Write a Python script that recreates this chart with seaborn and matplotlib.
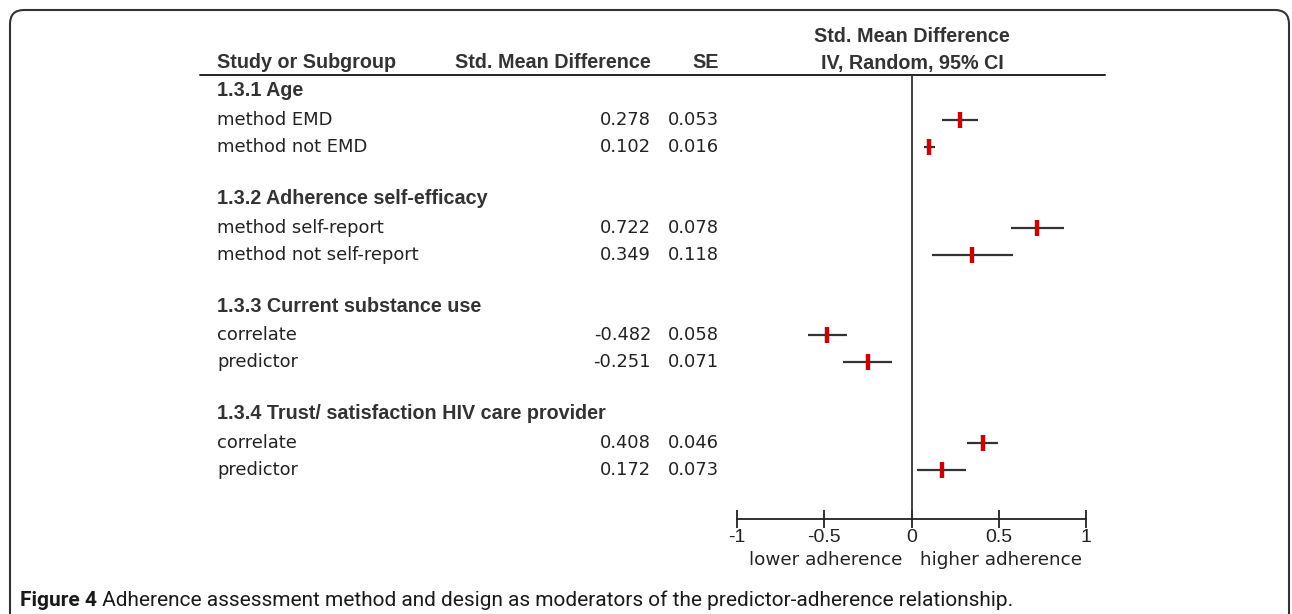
import matplotlib
matplotlib.use("Agg")
import matplotlib.pyplot as plt
import seaborn as sns
import pandas as pd
from matplotlib.lines import Line2D
from matplotlib.patches import FancyBboxPatch
from matplotlib.transforms import IdentityTransform, blended_transform_factory

# data
groups = ['1.3.1 Age', '1.3.2 Adherence self-efficacy', '1.3.3 Current substance use',
          '1.3.4 Trust/ satisfaction HIV care provider']
studies = ['method EMD', 'method not EMD', 'method self-report', 'method not self-report',
           'correlate', 'predictor', 'correlate', 'predictor']
study_group = [0, 0, 1, 1, 2, 2, 3, 3]
smd = [0.278, 0.102, 0.722, 0.349, -0.482, -0.251, 0.408, 0.172]
se = [0.053, 0.016, 0.078, 0.118, 0.058, 0.071, 0.046, 0.073]
ticks = [-1, -0.5, 0, 0.5, 1]
tick_labels = ['-1', '-0.5', '0', '0.5', '1']

df = pd.DataFrame({'study': studies, 'group': study_group, 'smd': smd, 'se': se})
df['row'] = [4 * g + 1 + i % 2 for i, g in enumerate(df['group'])]
df['lo'] = df['smd'] - 1.96 * df['se']
df['hi'] = df['smd'] + 1.96 * df['se']

sns.set_theme(style='white')
plt.rcParams['font.family'] = ['Liberation Sans', 'DejaVu Sans']

W, H = 1292, 614
fig = plt.figure(figsize=(W / 100, H / 100), dpi=100)

# forest panel: -1..1 spans px 737..1086, rows between header line and axis
top_px, bot_px = 75, 519
ax = fig.add_axes([737 / W, 1 - bot_px / H, (1086 - 737) / W, (bot_px - top_px) / H])
ax.set_xlim(-1, 1)
ax.set_ylim((bot_px - 93.1) / 26.9, (top_px - 93.1) / 26.9)

ax.axvline(0, color='#333333', lw=1.3, zorder=1)
ax.hlines(df['row'], df['lo'], df['hi'], color='#333333', lw=1.6, zorder=2)
sns.scatterplot(data=df, x='smd', y='row', marker='|', s=130, linewidth=3.2,
                color='#c80000', ax=ax, zorder=3, legend=False)

for s in ['top', 'left', 'right']:
    ax.spines[s].set_visible(False)
ax.spines['bottom'].set_color('#222222')
ax.spines['bottom'].set_linewidth(1.3)
ax.set_xticks(ticks)
ax.set_xticklabels(tick_labels)
ax.set_yticks([])
ax.tick_params(axis='x', direction='inout', length=13, width=1.3, color='#222222',
               labelsize=14, labelcolor='#222222', pad=1, bottom=True)
ax.set_xlabel('')
ax.set_ylabel('')
ax.set_facecolor('none')

# table columns, x in figure pixels, y in row units
tr = blended_transform_factory(fig.transFigure, ax.transData)
txt = '#222222'
head = '#333333'
body_font = ['DejaVu Sans']
fs_body = 12.9
fs_head = 14.2
for g, name in enumerate(groups):
    ax.text(217 / W, 4 * g - 0.08, name, transform=tr, ha='left', va='center',
            fontsize=fs_head, fontweight='bold', color=head)
for _, r in df.iterrows():
    ax.text(217 / W, r['row'], r['study'], transform=tr, ha='left', va='center',
            fontsize=fs_body, color=txt, family=body_font)
    ax.text(651 / W, r['row'], f"{r['smd']:.3f}", transform=tr, ha='right', va='center',
            fontsize=fs_body, color=txt, family=body_font)
    ax.text(719 / W, r['row'], f"{r['se']:.3f}", transform=tr, ha='right', va='center',
            fontsize=fs_body, color=txt, family=body_font)

# headers
hy = 1 - 63 / H
fig.text(217 / W, hy, 'Study or Subgroup', ha='left', va='center', fontsize=fs_head,
         fontweight='bold', color=head)
fig.text(651 / W, hy, 'Std. Mean Difference', ha='right', va='center', fontsize=fs_head,
         fontweight='bold', color=head)
fig.text(719 / W, hy, 'SE', ha='right', va='center', fontsize=fs_head,
         fontweight='bold', color=head)
fig.text(912 / W, 1 - 37 / H, 'Std. Mean Difference', ha='center', va='center',
         fontsize=fs_head, fontweight='bold', color=head)
fig.text(912 / W, hy, 'IV, Random, 95% CI', ha='center', va='center',
         fontsize=fs_head, fontweight='bold', color=head)
fig.add_artist(Line2D([200 / W, 1105 / W], [1 - 75 / H, 1 - 75 / H],
                      transform=fig.transFigure, color='#222222', lw=1.4))

# favours labels
fig.text(826 / W, 1 - 560 / H, 'lower adherence', ha='center', va='center',
         fontsize=13.2, color=txt, family=body_font)
fig.text(1001 / W, 1 - 560 / H, 'higher adherence', ha='center', va='center',
         fontsize=13.2, color=txt, family=body_font)

# caption
cap = fig.text(20 / W, 1 - 600 / H, 'Figure 4', ha='left', va='center',
               fontsize=15, fontweight='bold', color='#1a1a1a', family=['Roboto'])
ax.annotate(' Adherence assessment method and design as moderators of the '
            'predictor-adherence relationship.', xy=(1, 0.5), xycoords=cap,
            ha='left', va='center', fontsize=15, color='#1a1a1a', family=['Roboto'],
            annotation_clip=False)

# rounded frame
frame = FancyBboxPatch((10, -30), 1279, H - 10 + 30, boxstyle='round,pad=0,rounding_size=14',
                       transform=IdentityTransform(), fill=False, ec='#333333', lw=1.5)
fig.patches.append(frame)

fig.savefig('out.png', dpi=100)
